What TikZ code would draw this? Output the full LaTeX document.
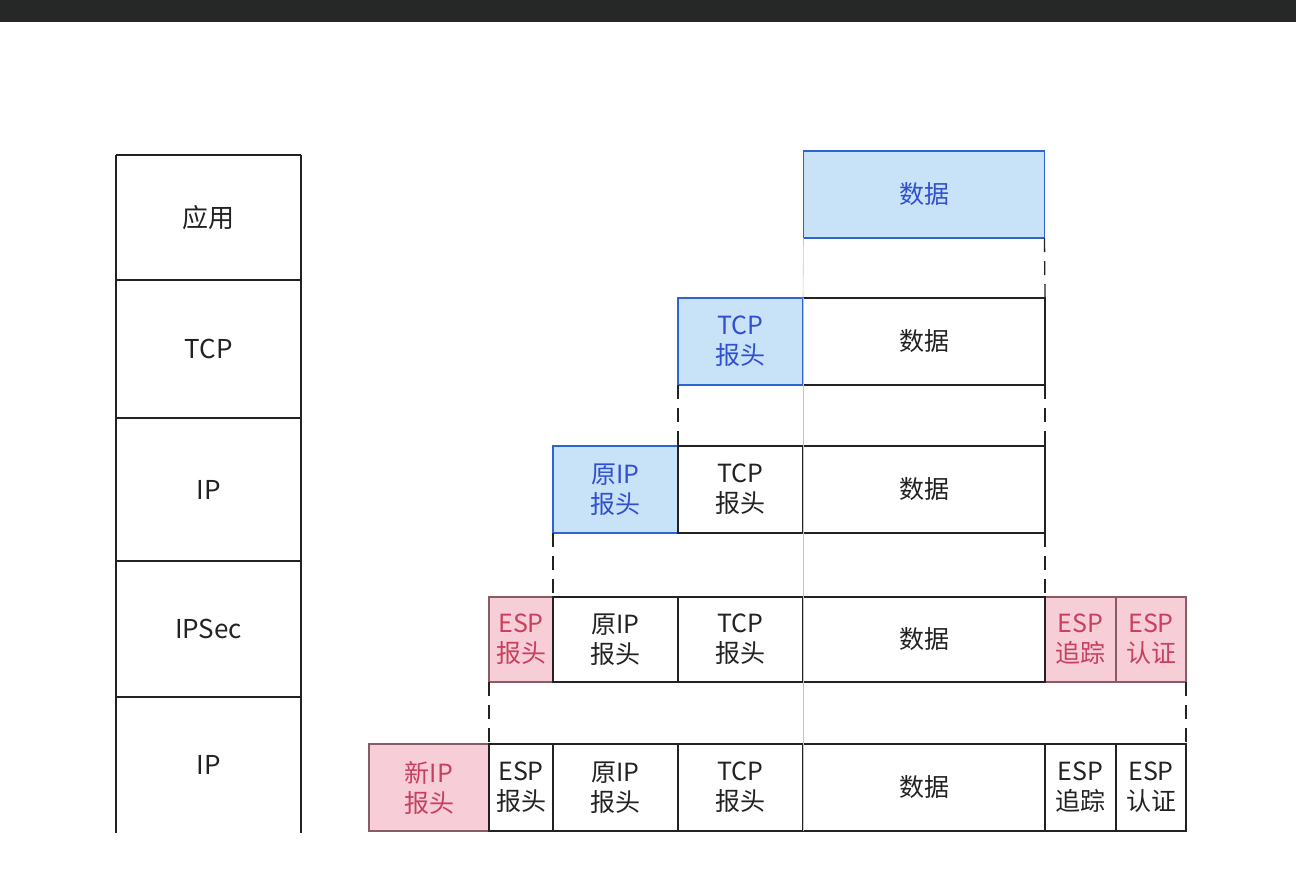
\documentclass[tikz,border=0pt]{standalone}
\usepackage{fontspec}
\setmainfont{Noto Sans CJK SC}
\definecolor{topbar}{HTML}{262727}
\definecolor{bfill}{HTML}{C8E3F8}
\definecolor{bline}{HTML}{2E64D0}
\definecolor{btext}{HTML}{3050D0}
\definecolor{pfill}{HTML}{F7CDD8}
\definecolor{pline}{HTML}{8A5A66}
\definecolor{ptext}{HTML}{C8405E}
\definecolor{ink}{HTML}{222222}
\tikzset{
  cell/.style={draw=ink, line width=1.3pt, outer sep=0pt, inner sep=0pt, text=ink,
    align=center, font=\fontsize{25}{30}\selectfont},
  bluecell/.style={cell, fill=bfill, draw=bline, text=btext},
  pinkcell/.style={cell, fill=pfill, draw=pline, text=ptext},
  datacell/.style={cell, draw=none},
  layer/.style={outer sep=0pt, inner sep=0pt, text=ink, font=\fontsize{26}{31}\selectfont},
  conn/.style={draw=ink, line width=1.3pt, dash pattern=on 14pt off 9pt},
  faint/.style={draw=gray!45, line width=0.6pt},
  frame/.style={draw=ink, line width=1.4pt}
}
\begin{document}
\begin{tikzpicture}[x=1pt,y=-1pt]
\useasboundingbox (0,0) rectangle (1296,868);
\fill[topbar] (0,0) rectangle (1296,22);

% left stack
\node[layer, minimum width=185pt, minimum height=125pt] (L1) at (208.5,217.5) {应用};
\node[layer, minimum width=185pt, minimum height=138pt] (L2) at (208.5,349) {TCP};
\node[layer, minimum width=185pt, minimum height=143pt] (L3) at (208.5,489.5) {IP};
\node[layer, minimum width=185pt, minimum height=136pt] (L4) at (208.5,629) {IPSec};
\node[layer, minimum width=185pt, minimum height=136pt] (L5) at (208.5,765) {IP};
\draw[frame] (L1.north west) -- (L1.north east);
\draw[frame] (L1.north west) -- (L5.south west);
\draw[frame] (L1.north east) -- (L5.south east);
\draw[frame] (L1.south west) -- (L1.south east);
\draw[frame] (L2.south west) -- (L2.south east);
\draw[frame] (L3.south west) -- (L3.south east);
\draw[frame] (L4.south west) -- (L4.south east);

% row 1
\node[bluecell, minimum width=241pt, minimum height=87pt] (d1) at (924,194.5) {数据};
% row 2
\node[bluecell, minimum width=125pt, minimum height=87pt] (t2) at (740.5,341.5) {TCP\\报头};
\node[datacell, minimum width=242pt, minimum height=87pt] (d2) at (924,341.5) {数据};
% row 3
\node[bluecell, minimum width=125pt, minimum height=87pt] (o3) at (615.5,489.5) {原IP\\报头};
\node[cell, minimum width=125pt, minimum height=87pt] (t3) at (740.5,489.5) {TCP\\报头};
\node[datacell, minimum width=242pt, minimum height=87pt] (d3) at (924,489.5) {数据};
% row 4
\node[pinkcell, minimum width=64pt, minimum height=85pt] (e4) at (521,639.5) {ESP\\报头};
\node[cell, minimum width=125pt, minimum height=85pt] (o4) at (615.5,639.5) {原IP\\报头};
\node[cell, minimum width=125pt, minimum height=85pt] (t4) at (740.5,639.5) {TCP\\报头};
\node[datacell, minimum width=242pt, minimum height=85pt] (d4) at (924,639.5) {数据};
\node[pinkcell, minimum width=71pt, minimum height=85pt] (r4) at (1080.5,639.5) {ESP\\追踪};
\node[pinkcell, minimum width=70pt, minimum height=85pt] (a4) at (1151,639.5) {ESP\\认证};
% row 5
\node[pinkcell, minimum width=120pt, minimum height=87pt] (n5) at (429,787.5) {新IP\\报头};
\node[cell, minimum width=64pt, minimum height=87pt] (e5) at (521,787.5) {ESP\\报头};
\node[cell, minimum width=125pt, minimum height=87pt] (o5) at (615.5,787.5) {原IP\\报头};
\node[cell, minimum width=125pt, minimum height=87pt] (t5) at (740.5,787.5) {TCP\\报头};
\node[datacell, minimum width=242pt, minimum height=87pt] (d5) at (924,787.5) {数据};
\node[cell, minimum width=71pt, minimum height=87pt] (r5) at (1080.5,787.5) {ESP\\追踪};
\node[cell, minimum width=70pt, minimum height=87pt] (a5) at (1151,787.5) {ESP\\认证};

% data cell outlines (faint left edge)
\foreach \d in {d2,d3,d4,d5}{
  \draw[cell] (\d.north west) -- (\d.north east) -- (\d.south east) -- (\d.south west);
  \draw[faint] (\d.north west) -- (\d.south west);
}

% faint guide at data boundary between rows
\draw[faint] (d1.south west) -- (d2.north west);
\draw[faint] (d2.south west) -- (d3.north west);
\draw[faint] (d3.south west) -- (d4.north west);
\draw[faint] (d4.south west) -- (d5.north west);

% dashed connectors
\draw[conn] (d1.south east) -- (d2.north east);
\draw[conn] (t2.south west) -- (t3.north west);
\draw[conn] (d2.south east) -- (d3.north east);
\draw[conn] (o3.south west) -- (o4.north west);
\draw[conn] (d3.south east) -- (d4.north east);
\draw[conn] (e4.south west) -- (e5.north west);
\draw[conn] (a4.south east) -- (a5.north east);
\end{tikzpicture}
\end{document}
